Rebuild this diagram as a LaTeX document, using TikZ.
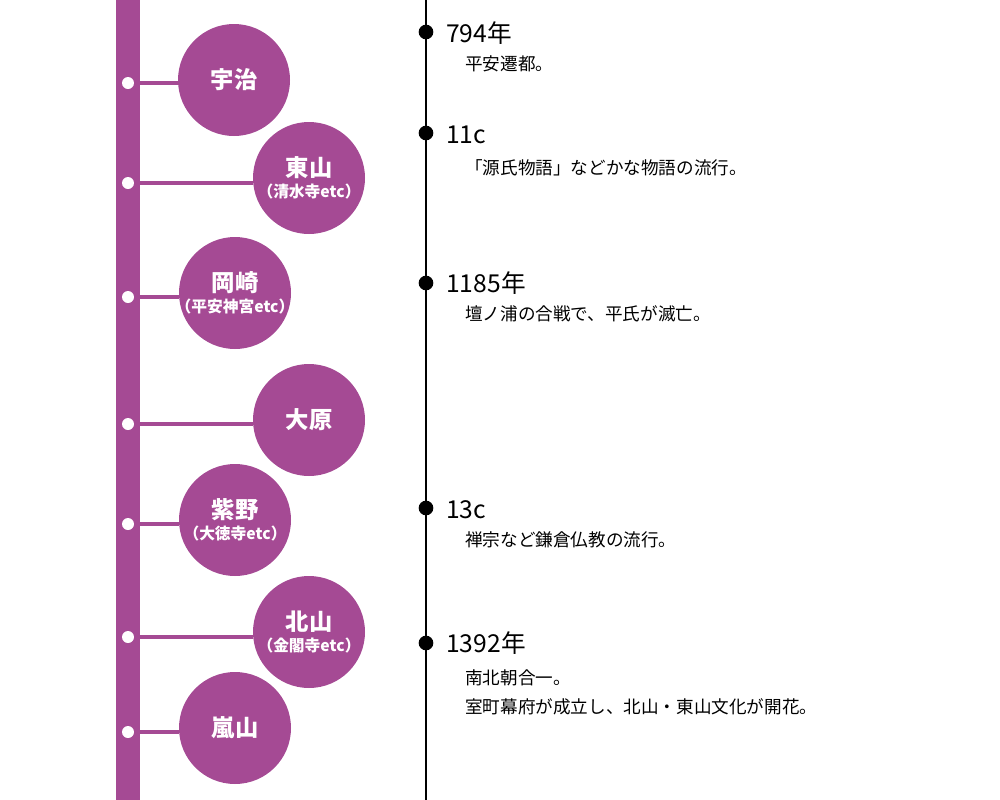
\documentclass[tikz,border=0pt]{standalone}
\usepackage{fontspec}
\setmainfont{Noto Sans CJK JP}
\usetikzlibrary{positioning,calc}
\definecolor{ktpurple}{RGB}{165,74,148}
\tikzset{
  ktarea/.style={circle, fill=ktpurple, minimum size=84pt, inner sep=-12pt,
    text=white, align=center, font=\bfseries\fontsize{17.5}{19}\selectfont},
  ktpin/.style={circle, fill=white, minimum size=9pt, inner sep=0pt},
  ktstem/.style={draw=ktpurple, line width=3pt},
  ktbar/.style={fill=ktpurple},
  ktaxis/.style={draw=black, line width=1.1pt},
  ktdot/.style={circle, fill=black, minimum size=11pt, inner sep=0pt},
  ktyear/.style={anchor=west, inner sep=0pt, font=\fontsize{18.5}{20}\selectfont},
  ktnote/.style={anchor=west, inner sep=0pt, font=\fontsize{13.2}{15}\selectfont},
}
\newcommand{\KTSub}[1]{\\[-3pt]{\fontsize{11.8}{13}\selectfont #1}}

\begin{document}
\begin{tikzpicture}[x=0.75pt, y=-0.75pt]
  \useasboundingbox (0,0) rectangle (1000,800);
  % purple bar on the left
  \fill[ktbar] (116,0) rectangle (140,800);

  % area circles
  \node[ktarea] (uji)      at (234,80)  {宇治};
  \node[ktarea] (higashi)  at (309,178) {東山\KTSub{（清水寺etc）}};
  \node[ktarea] (okazaki)  at (235,293) {岡崎\KTSub{（平安神宮etc）}};
  \node[ktarea] (ohara)    at (309,420) {大原};
  \node[ktarea] (murasaki) at (235,520) {紫野\KTSub{（大徳寺etc）}};
  \node[ktarea] (kita)     at (309,632) {北山\KTSub{（金閣寺etc）}};
  \node[ktarea] (arashi)   at (235,728) {嵐山};

  % pins on the bar
  \node[ktpin] (uji-pin)      at (128,83)  {};
  \node[ktpin] (higashi-pin)  at (128,183) {};
  \node[ktpin] (okazaki-pin)  at (128,297) {};
  \node[ktpin] (ohara-pin)    at (128,424) {};
  \node[ktpin] (murasaki-pin) at (128,524) {};
  \node[ktpin] (kita-pin)     at (128,637) {};
  \node[ktpin] (arashi-pin)   at (128,732) {};

  \foreach \n in {uji,higashi,okazaki,ohara,murasaki,kita,arashi}
    \draw[ktstem] (\n-pin.east) -- (\n-pin -| \n.west);

  % time axis
  \coordinate (axis-top) at (426,0);
  \coordinate (axis-bot) at (426,800);
  \draw[ktaxis] (axis-top) -- (axis-bot);

  \node[ktdot] (d794)  at (426,32)  {};
  \node[ktdot] (d11c)  at (426,133) {};
  \node[ktdot] (d1185) at (426,283) {};
  \node[ktdot] (d13c)  at (426,508) {};
  \node[ktdot] (d1392) at (426,643) {};

  \node[ktyear] (y794)  at (446,33)  {794年};
  \node[ktnote] (n794)  at (465,64)  {平安遷都。};
  \node[ktyear] (y11c)  at (446,135) {11c};
  \node[ktnote] (n11c)  at (465,168) {「源氏物語」などかな物語の流行。};
  \node[ktyear] (y1185) at (446,283) {1185年};
  \node[ktnote] (n1185) at (465,314) {壇ノ浦の合戦で、平氏が滅亡。};
  \node[ktyear] (y13c)  at (446,510) {13c};
  \node[ktnote] (n13c)  at (465,540) {禅宗など鎌倉仏教の流行。};
  \node[ktyear] (y1392) at (446,643) {1392年};
  \node[ktnote] (n1392a) at (465,678) {南北朝合一。};
  \node[ktnote] (n1392b) at (465,707) {室町幕府が成立し、北山・東山文化が開花。};
\end{tikzpicture}
\end{document}
